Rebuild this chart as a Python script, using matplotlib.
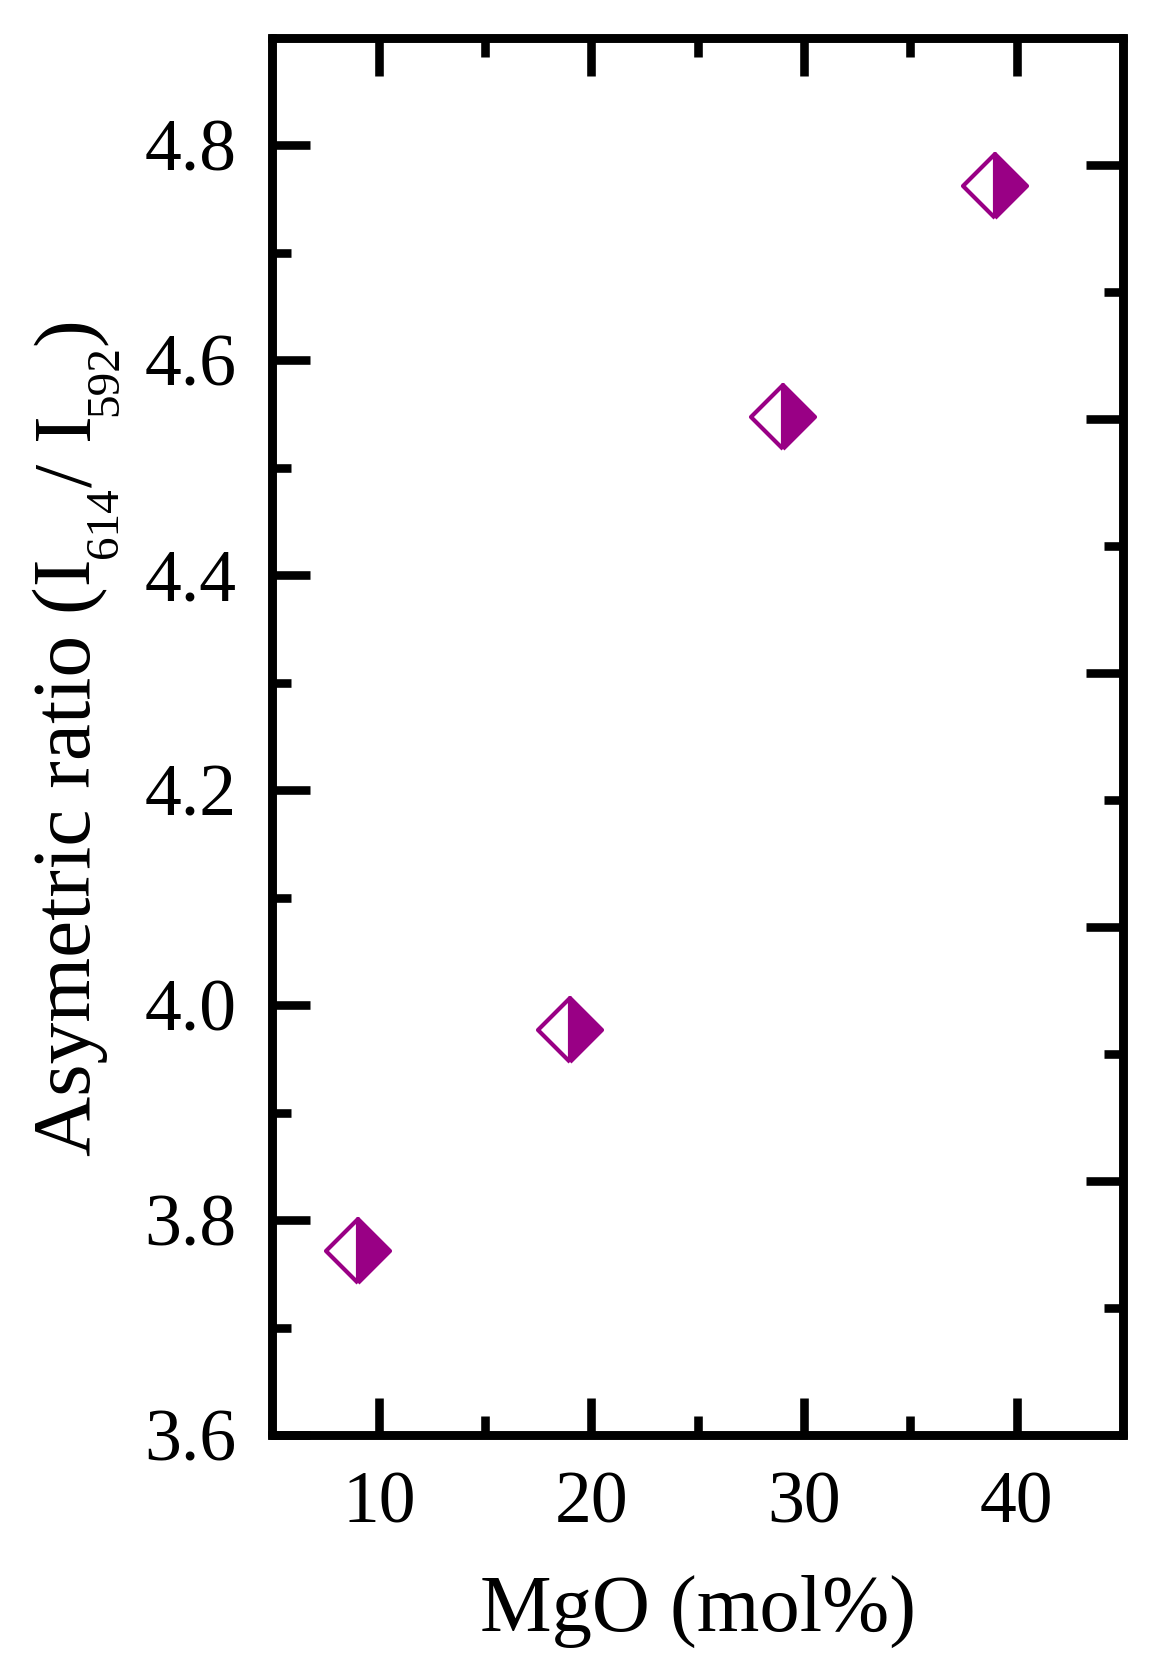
import numpy as np
import matplotlib
matplotlib.use("Agg")
import matplotlib.pyplot as plt
from matplotlib.markers import MarkerStyle
from matplotlib.ticker import NullFormatter
from matplotlib.transforms import IdentityTransform

plt.rcParams['font.family'] = ['Liberation Serif', 'DejaVu Serif']

# data
mgo = [9, 19, 29, 39]
asym_ratio = [3.771, 3.977, 4.547, 4.762]

x_major = [10, 20, 30, 40]
x_minor = [15, 25, 35]
y_major = [3.6, 3.8, 4.0, 4.2, 4.4, 4.6, 4.8]
y_minor = [3.7, 3.9, 4.1, 4.3, 4.5, 4.7]

# right axis only carries unlabeled ticks
right_major = [2, 4, 6, 8, 10]
right_minor = [1, 3, 5, 7, 9]

# y label pieces: (text, is_subscript)
ylabel_parts = [('Asymetric ratio (I', False), ('614', True), ('/ I', False),
                ('592', True), (')', False)]

purple = '#990085'
lw = 6.2

fig = plt.figure(figsize=(11.59, 16.72), dpi=100)
ax = fig.add_axes([0.2351, 0.1417, 0.7338, 0.8358])

mk = MarkerStyle('D', fillstyle='right', joinstyle='round')
ax.plot(mgo, asym_ratio, linestyle='none', marker=mk, markersize=33,
        markerfacecolor=purple, markerfacecoloralt='white',
        markeredgecolor=purple, markeredgewidth=3.0, zorder=3)

ax.set_xlim(5, 45)
ax.set_ylim(3.6, 4.9)
ax.set_xticks(x_major)
ax.set_xticks(x_minor, minor=True)
ax.set_yticks(y_major)
ax.set_yticks(y_minor, minor=True)
ax.set_yticklabels(['%.1f' % v for v in y_major])

for sp in ax.spines.values():
    sp.set_linewidth(lw)
    sp.set_capstyle('round')

ax.tick_params(which='both', direction='in', width=lw, top=True, right=False,
               labelsize=53)
ax.tick_params(which='major', length=27)
ax.tick_params(which='minor', length=14)
ax.tick_params(axis='y', which='both', pad=26)
ax.tick_params(axis='x', which='both', pad=26)

# twin axis for the right-hand ticks
ax2 = ax.twinx()
ax2.set_ylim(0, 11)
ax2.set_yticks(right_major)
ax2.set_yticks(right_minor, minor=True)
ax2.yaxis.set_major_formatter(NullFormatter())
ax2.tick_params(which='both', direction='in', width=lw, right=True, labelright=False)
ax2.tick_params(which='major', length=27)
ax2.tick_params(which='minor', length=14)
for sp in ax2.spines.values():
    sp.set_linewidth(lw)

ax.set_xlabel('MgO (mol%)', fontsize=58)
ax.xaxis.set_label_coords(0.5, -0.1)

# y label built from pieces so the subscripts can be small and dropped
main_size = 60
sub_size = 34
base_x = 90      # baseline of the main text, px from left
sub_drop = 27    # subscript baseline offset, px
texts = []
for s, is_sub in ylabel_parts:
    t = fig.text(0, 0, s, fontsize=sub_size if is_sub else main_size,
                 rotation=90, rotation_mode='anchor', ha='left', va='baseline',
                 transform=IdentityTransform())
    texts.append((t, is_sub))

fig.canvas.draw()
renderer = fig.canvas.get_renderer()
lengths = [t.get_window_extent(renderer).height for t, _ in texts]
total = sum(lengths)
bb = ax.get_window_extent(renderer)
y0 = (bb.y0 + bb.y1) / 2 - total / 2
for (t, is_sub), L in zip(texts, lengths):
    t.set_position((base_x + (sub_drop if is_sub else 0), y0))
    y0 += L

fig.savefig('out.png', dpi=100)
